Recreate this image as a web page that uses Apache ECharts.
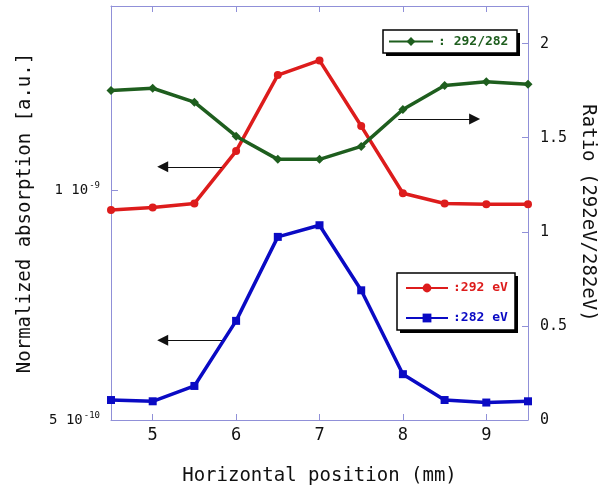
<!DOCTYPE html>
<html><head><meta charset="utf-8">
<script src="https://cdn.jsdelivr.net/npm/echarts@6/dist/echarts.min.js"></script>
<style>html,body{margin:0;padding:0;background:#fff}#c{width:607px;height:495px}</style>
</head><body><div id="c"></div>
<script>
// ---- data ----
const positions = [4.5, 5, 5.5, 6, 6.5, 7, 7.5, 8, 8.5, 9, 9.5];
const abs292 = [0.941e-9, 0.948e-9, 0.960e-9, 1.124e-9, 1.413e-9, 1.477e-9, 1.212e-9, 0.990e-9, 0.960e-9, 0.958e-9, 0.958e-9];
const abs282 = [0.531e-9, 0.529e-9, 0.554e-9, 0.674e-9, 0.868e-9, 0.899e-9, 0.739e-9, 0.574e-9, 0.531e-9, 0.527e-9, 0.529e-9];
const ratio = [1.751, 1.763, 1.689, 1.508, 1.385, 1.385, 1.454, 1.650, 1.777, 1.797, 1.784];
const xTicks = [5, 6, 7, 8, 9];
const leftTicks = [5e-10, 1e-9];
const rightTicks = [0, 0.5, 1, 1.5, 2];
// annotation arrows [start, end] in data coordinates
const arrow292 = [[5.83, 1.072e-9], [5.12, 1.072e-9]];
const arrow282 = [[5.83, 0.636e-9], [5.12, 0.636e-9]];
const arrowRatio = [[7.945, 1.60], [8.86, 1.60]];

const axisColor = '#9090d8';
const FONT = 'DejaVu Sans Mono';
const RED = '#dd1c1c', BLUE = '#0a0ac4', GREEN = '#1e5e1e';

const pairs = (xs, ys) => xs.map((x, i) => [x, ys[i]]);
const arrowLine = a => ({
  silent: true, animation: false,
  symbol: ['none', 'triangle'], symbolSize: 11,
  lineStyle: { color: '#111', width: 1, type: 'solid' },
  itemStyle: { color: '#111' },
  label: { show: false }, emphasis: { disabled: true },
  data: [[{ coord: a[0] }, { coord: a[1] }]]
});

function leftLabel(v) {
  if (Math.abs(v - 1e-9) < 1e-12) return '{a|1 10}{b|-9}';
  if (Math.abs(v - 5e-10) < 1e-12) return '{a|5 10}{b|-10}';
  return '';
}

// legend frame boxes (black offset shadow + white framed box)
function frame(x, y, w, h) {
  return [
    { type: 'rect', z: 10, silent: true, shape: { x: x + 3, y: y + 3, width: w, height: h }, style: { fill: '#000' } },
    { type: 'rect', z: 11, silent: true, shape: { x: x, y: y, width: w, height: h }, style: { fill: '#fff', stroke: '#000', lineWidth: 1.5 } }
  ];
}

const chart = echarts.init(document.getElementById('c'), null, { renderer: 'canvas' });
chart.setOption({
  animation: false,
  backgroundColor: '#fff',
  textStyle: { fontFamily: FONT },
  grid: { left: 111, right: 79, top: 6, bottom: 75, containLabel: false },
  graphic: [].concat(frame(383, 30, 134, 23), frame(397, 273, 118, 57)),
  xAxis: [{
    type: 'value', min: 4.5, max: 9.5, position: 'bottom',
    name: 'Horizontal position (mm)', nameLocation: 'middle', nameGap: 47,
    nameTextStyle: { fontFamily: FONT, fontSize: 19, color: '#111' },
    axisLine: { lineStyle: { color: axisColor, width: 1 } },
    axisTick: { inside: true, length: 6, lineStyle: { color: axisColor }, customValues: xTicks },
    axisLabel: { customValues: xTicks, fontFamily: FONT, fontSize: 17, color: '#111', margin: 7 },
    splitLine: { show: false }
  }, {
    type: 'value', min: 4.5, max: 9.5, position: 'top',
    axisLine: { lineStyle: { color: axisColor, width: 1 } },
    axisTick: { inside: true, length: 6, lineStyle: { color: axisColor }, customValues: xTicks },
    axisLabel: { show: false },
    splitLine: { show: false }
  }],
  yAxis: [{
    type: 'log', logBase: 10, min: 5e-10, max: 1.74e-9, position: 'left',
    name: 'Normalized absorption [a.u.]', nameLocation: 'middle', nameGap: 76, nameRotate: 90,
    nameTextStyle: { fontFamily: FONT, fontSize: 19, color: '#111' },
    axisLine: { show: true, lineStyle: { color: axisColor, width: 1 } },
    axisTick: { show: true, inside: true, length: 7, lineStyle: { color: axisColor }, customValues: leftTicks },
    axisLabel: {
      customValues: leftTicks, formatter: leftLabel, margin: 11,
      rich: {
        a: { fontFamily: FONT, fontSize: 14, color: '#111' },
        b: { fontFamily: FONT, fontSize: 9, color: '#111', verticalAlign: 'bottom', padding: [0, 0, 8, 1] }
      }
    },
    splitLine: { show: false }
  }, {
    type: 'value', min: 0, max: 2.2, position: 'right',
    name: 'Ratio (292eV/282eV)', nameLocation: 'middle', nameGap: 45, nameRotate: -90,
    nameTextStyle: { fontFamily: FONT, fontSize: 19, color: '#111' },
    axisLine: { show: true, lineStyle: { color: axisColor, width: 1 } },
    axisTick: { show: true, inside: true, length: 6, lineStyle: { color: axisColor }, customValues: rightTicks },
    axisLabel: { customValues: rightTicks, fontFamily: FONT, fontSize: 15, color: '#111', margin: 12 },
    splitLine: { show: false }
  }],
  legend: [{
    z: 20, left: 383, top: 30, orient: 'horizontal', selectedMode: false,
    data: [{ name: ': 292/282', textStyle: { color: GREEN } }],
    itemWidth: 44, itemHeight: 11,
    textStyle: { fontFamily: FONT, fontSize: 13, fontWeight: 'bold', lineHeight: 17 },
    padding: [3, 4, 3, 5]
  }, {
    z: 20, left: 397, top: 273, orient: 'vertical', selectedMode: false, itemGap: 13,
    data: [{ name: ':292 eV', textStyle: { color: RED } }, { name: ':282 eV', textStyle: { color: BLUE } }],
    itemWidth: 42, itemHeight: 11,
    textStyle: { fontFamily: FONT, fontSize: 13, fontWeight: 'bold', lineHeight: 17 },
    padding: [6.5, 5, 4, 8]
  }],
  series: [{
    name: ':292 eV', type: 'line', xAxisIndex: 0, yAxisIndex: 0,
    data: pairs(positions, abs292),
    symbol: 'circle', symbolSize: 8, showAllSymbol: true,
    lineStyle: { color: RED, width: 3.5 }, itemStyle: { color: RED },
    markLine: arrowLine(arrow292)
  }, {
    name: ':282 eV', type: 'line', xAxisIndex: 0, yAxisIndex: 0,
    data: pairs(positions, abs282),
    symbol: 'rect', symbolSize: 8, showAllSymbol: true,
    lineStyle: { color: BLUE, width: 3.5 }, itemStyle: { color: BLUE },
    markLine: arrowLine(arrow282)
  }, {
    name: ': 292/282', type: 'line', xAxisIndex: 0, yAxisIndex: 1,
    data: pairs(positions, ratio),
    symbol: 'diamond', symbolSize: 9, showAllSymbol: true,
    lineStyle: { color: GREEN, width: 3.5 }, itemStyle: { color: GREEN },
    markLine: arrowLine(arrowRatio)
  }]
});
</script></body></html>
